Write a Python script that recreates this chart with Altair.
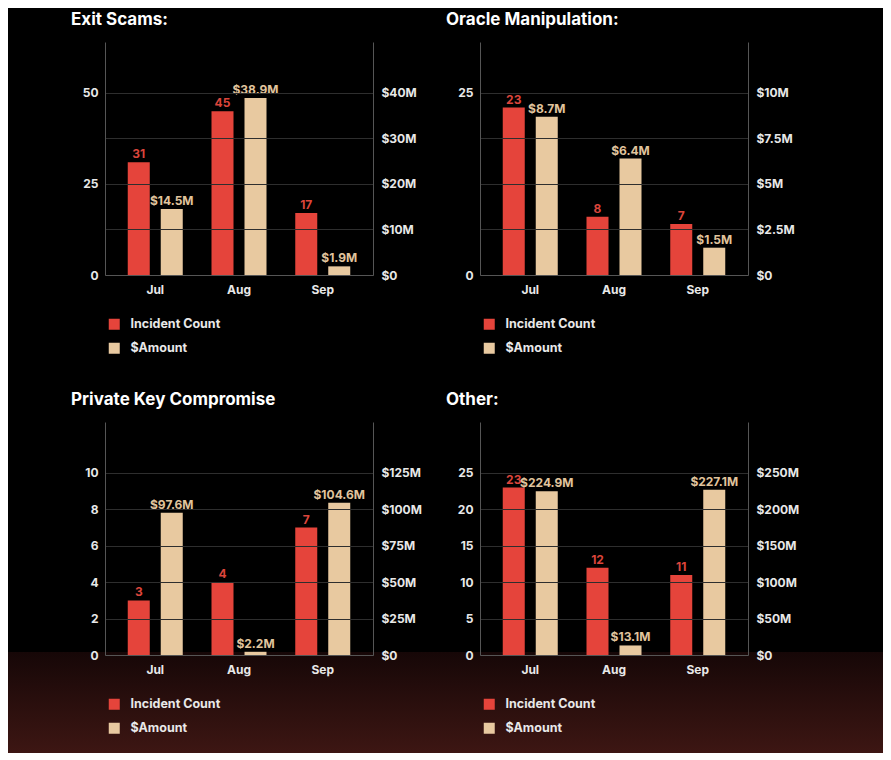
import altair as alt
import pandas as pd

months = ["Jul", "Aug", "Sep"]

# Exit Scams
exit_counts = [31, 45, 17]
exit_amounts = [14.5, 38.9, 1.9]
exit_labels = ["$14.5M", "$38.9M", "$1.9M"]

# Oracle Manipulation
oracle_counts = [23, 8, 7]
oracle_amounts = [8.7, 6.4, 1.5]
oracle_labels = ["$8.7M", "$6.4M", "$1.5M"]

# Private Key Compromise
pk_counts = [3, 4, 7]
pk_amounts = [97.6, 2.2, 104.6]
pk_labels = ["$97.6M", "$2.2M", "$104.6M"]

# Other
other_counts = [23, 12, 11]
other_amounts = [224.9, 13.1, 227.1]
other_labels = ["$224.9M", "$13.1M", "$227.1M"]

series_names = ["Incident Count", "$Amount"]

RED = "#e5443b"
BEIGE = "#e8c9a0"
RED_TXT = "#db453b"
BEIGE_TXT = "#e0c49d"
LABEL = "#e8e8e8"
FONT = "Inter"

W, H = 268, 233


def panel(title, counts, amounts, labels, cmax, amax, cticks, aticks, left_col, bottom_row):
    df = pd.DataFrame({"month": months, "count": counts, "amount": amounts, "alabel": labels,
                       "s_count": [series_names[0]] * 3, "s_amount": [series_names[1]] * 3})
    xenc = alt.X("month:N", sort=months, title=None,
                 scale=alt.Scale(paddingInner=0.2, paddingOuter=0.2),
                 axis=alt.Axis(labelAngle=0, ticks=False, domainColor="#555555", labelPadding=9,
                               labelFont=FONT, labelFontWeight="bold", labelFontSize=12,
                               labelColor=LABEL, grid=False, zindex=1))
    ycount = alt.Y("count:Q", title=None,
                   scale=alt.Scale(domain=[0, cmax], nice=False),
                   axis=alt.Axis(orient="left", values=cticks, grid=False, ticks=False,
                                 domainColor="#555555", labelPadding=7, labelFont=FONT,
                                 labelFontWeight="bold", labelFontSize=12, labelColor=LABEL,
                                 zindex=1))
    yamt = alt.Y("amount:Q", title=None,
                 scale=alt.Scale(domain=[0, amax], nice=False),
                 axis=alt.Axis(orient="right", values=aticks, grid=True, gridColor="#2e2e2e",
                               ticks=False, domainColor="#555555", labelPadding=8, labelFont=FONT,
                               labelFontWeight="bold", labelFontSize=12, labelColor=LABEL,
                               zindex=1,
                               labelExpr="datum.value == 0 ? '$0' : '$' + datum.value + 'M'"))
    color_scale = alt.Scale(domain=series_names, range=[RED, BEIGE])
    legend = alt.Legend(orient="none", legendX=3, legendY=276, title=None, direction="vertical",
                        symbolType="square", symbolSize=121, symbolStrokeWidth=0,
                        labelFont=FONT, labelFontWeight="bold", labelFontSize=12.5,
                        labelColor=LABEL, labelOffset=10, rowPadding=11, padding=0, zindex=2)

    base = alt.Chart(df)
    x0 = -97 if left_col else -35
    x1 = 340 if left_col else 403
    layers = []
    if bottom_row:
        bg = base.mark_rect(
            color=alt.LinearGradient(gradient="linear", x1=0, x2=0, y1=0, y2=1,
                                     stops=[alt.GradientStop(offset=0, color="#160707"),
                                            alt.GradientStop(offset=1, color="#3d1613")])
        ).encode(x=alt.value(x0), x2=alt.value(x1), y=alt.value(230), y2=alt.value(331))
        layers.append(bg)

    red = base.mark_bar(width=22, xOffset=-16.5).encode(
        x=xenc, y=ycount,
        color=alt.Color("s_count:N", scale=color_scale, legend=legend))
    redt = base.mark_text(xOffset=-16.5, dy=-4, baseline="alphabetic", font=FONT,
                          fontWeight="bold", fontSize=12, color=RED_TXT).encode(
        x=xenc, y=ycount, text="count:Q")
    beige = base.mark_bar(width=22, xOffset=16.5).encode(
        x=xenc, y=yamt,
        color=alt.Color("s_amount:N", scale=color_scale, legend=legend))
    beiget = base.mark_text(xOffset=16.5, dy=-4, baseline="alphabetic", font=FONT,
                            fontWeight="bold", fontSize=12, color=BEIGE_TXT).encode(
        x=xenc, y=yamt, text="alabel:N")
    layers += [red, redt]

    return alt.layer(alt.layer(*layers), alt.layer(beige, beiget)).resolve_scale(
        y="independent").properties(
        width=W, height=H,
        title=alt.Title(title, anchor="start", frame="group", dx=-34, offset=0,
                        baseline="alphabetic", fontSize=17, font=FONT, fontWeight="bold",
                        color="#ffffff"))


p1 = panel("Exit Scams:", exit_counts, exit_amounts, exit_labels, 64, 51.2,
           [0, 25, 50], [0, 10, 20, 30, 40], True, False)
p2 = panel("Oracle Manipulation:", oracle_counts, oracle_amounts, oracle_labels, 32, 12.8,
           [0, 25], [0, 2.5, 5, 7.5, 10], False, False)
p3 = panel("Private Key Compromise", pk_counts, pk_amounts, pk_labels, 12.8, 160,
           [0, 2, 4, 6, 8, 10], [0, 25, 50, 75, 100, 125], True, True)
p4 = panel("Other:", other_counts, other_amounts, other_labels, 32, 320,
           [0, 5, 10, 15, 20, 25], [0, 50, 100, 150, 200, 250], False, True)

chart = alt.concat(p1, p2, p3, p4, columns=2,
                   spacing={"row": 147, "column": 107},
                   bounds="flush").resolve_scale(color="independent").properties(
    padding={"top": 3, "left": 0, "right": 0, "bottom": 0}, background="#000000"
).configure_view(stroke=None)

chart.save("out.html", embed_options={"renderer": "svg", "actions": False})
